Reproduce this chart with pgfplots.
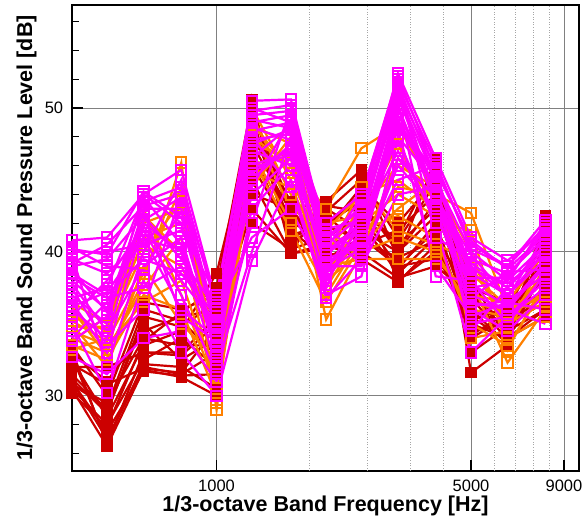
\documentclass[border=0pt]{standalone}
\usepackage{fontspec}
\setmainfont{Liberation Sans}
\usepackage{pgfplots}
\usepackage{pgfplotstable}
\pgfplotsset{compat=1.18}

\definecolor{dred}{RGB}{204,0,0}
\definecolor{orng}{RGB}{255,128,0}
\definecolor{mgnt}{RGB}{255,0,255}

% 1/3-octave band spectra, one column per measurement
\pgfplotstableread{
f    r1   r2   r3   r4   r5   r6   r7   r8   r9   r10  r11  r12  r13  r14  r15  r16
400  31.0 30.5 32.5 31.5 33.0 30.5 32.0 31.0 33.5 30.8 32.8 31.2 30.2 32.2 30.8 33.2
500  27.0 26.5 28.5 29.0 31.0 28.0 32.0 27.5 30.0 29.5 26.8 28.8 27.8 30.8 29.2 26.6
630  32.0 31.8 33.5 35.0 34.5 32.5 33.0 31.7 36.5 34.0 32.2 35.5 33.8 31.9 36.0 33.0
800  31.5 31.3 34.5 32.5 35.5 34.0 33.0 31.4 36.0 33.5 32.0 34.8 35.8 31.6 35.2 32.8
1000 33.0 30.0 38.5 34.0 36.0 32.0 35.5 31.5 37.0 33.5 30.5 36.5 37.5 34.8 32.8 35.0
1250 47.0 50.6 48.5 44.0 49.5 46.0 50.0 45.0 48.0 42.0 49.0 47.5 50.3 43.0 49.8 46.8
1600 41.0 40.0 42.0 43.0 40.5 41.5 42.5 39.9 43.5 40.2 41.8 42.8 40.8 39.9 43.2 41.2
2000 42.0 43.5 41.0 40.0 42.5 39.5 41.5 40.5 42.0 41.0 43.0 39.8 42.8 40.2 43.2 41.8
2500 44.0 45.7 43.0 42.0 40.5 41.0 44.5 39.5 43.5 42.5 41.5 40.0 45.0 41.8 42.8 40.8
3150 38.0 39.5 40.5 38.5 41.5 39.0 42.0 37.9 40.0 39.0 40.0 38.2 41.0 38.8 40.8 39.6
4000 40.0 46.5 43.0 41.0 44.0 39.5 45.0 40.5 42.5 41.5 43.5 39.0 46.0 42.0 44.8 40.8
5000 35.0 31.6 36.0 37.0 34.0 36.5 38.0 35.5 37.5 34.5 36.0 37.0 33.0 35.2 36.8 34.2
6300 34.0 33.5 35.0 34.5 35.5 36.0 34.0 33.8 36.5 35.0 33.6 35.0 34.8 36.2 33.9 35.8
8000 36.0 42.5 37.5 36.0 38.5 41.0 35.5 39.0 40.0 37.0 42.0 36.5 41.5 38.0 40.8 39.5
}\redtab

\pgfplotstableread{
f    o1   o2   o3   o4   o5   o6   o7   o8   o9   o10  o11  o12
400  34.0 35.5 33.5 36.5 34.5 35.0 33.2 36.0 35.2 33.8 36.2 34.8
500  33.0 34.5 32.5 35.0 33.5 32.0 34.0 32.8 33.8 35.5 33.2 34.8
630  38.0 40.0 37.0 42.5 36.5 39.0 41.0 43.0 38.5 40.5 37.5 42.0
800  46.2 43.5 36.0 40.0 38.0 35.0 42.0 37.0 44.5 39.0 41.0 43.0
1000 29.0 33.0 30.0 34.5 31.0 32.5 35.0 30.5 32.0 34.0 29.5 33.5
1250 48.0 49.5 46.0 50.0 47.0 44.5 48.5 46.5 49.0 47.5 45.5 48.8
1600 46.0 44.0 47.0 45.0 42.0 48.0 43.0 41.5 45.5 46.5 44.5 47.5
2000 43.0 38.5 35.3 40.0 37.5 39.0 41.5 36.5 42.0 37.0 39.5 38.0
2500 47.2 42.0 40.0 43.0 41.5 39.5 44.0 40.5 42.5 41.0 44.5 40.0
3150 48.8 44.0 41.0 46.0 42.5 39.5 45.0 43.0 47.5 44.5 41.5 46.5
4000 44.0 42.5 40.0 44.5 41.0 39.5 43.0 45.0 42.0 44.0 40.5 43.5
5000 42.7 38.0 36.0 40.0 35.0 37.0 39.0 34.0 41.5 36.5 39.5 38.5
6300 36.0 32.3 35.5 34.0 33.5 36.5 35.0 34.5 33.2 35.8 34.8 36.2
8000 37.0 36.0 38.5 35.5 37.5 40.0 36.5 39.0 38.0 37.0 39.5 36.2
}\orngtab

\pgfplotstableread{
f    m1   m2   m3   m4   m5   m6   m7   m8   m9   m10  m11  m12  m13  m14  m15  m16  m17  m18  m19  m20  m21  m22  m23  m24
400  40.8 38.0 36.5 35.0 39.5 37.0 32.7 40.0 38.5 36.0 39.0 37.5 34.0 39.8 36.8 38.2 33.8 40.3 39.2 37.8 35.5 38.8 36.2 40.2
500  41.0 36.0 33.0 30.2 38.5 35.0 31.5 40.0 37.0 34.0 39.5 33.5 36.5 32.0 37.5 36.8 35.5 39.0 40.5 34.5 38.0 35.8 37.2 39.8
630  44.0 43.5 42.0 38.0 41.0 44.0 34.0 40.5 39.5 43.0 42.5 36.0 41.5 40.0 43.8 37.5 42.8 38.8 43.2 39.0 41.8 42.2 40.8 44.2
800  45.7 44.5 40.0 33.0 36.0 42.0 34.5 41.5 38.5 43.0 39.5 44.0 37.0 45.0 40.5 39.0 35.5 42.8 44.0 41.0 38.0 43.8 40.2 42.4
1000 36.5 35.0 32.0 30.0 34.0 33.5 31.0 37.0 35.5 32.5 36.0 34.5 31.5 36.0 33.0 34.8 33.8 35.2 36.8 32.8 35.0 34.2 33.4 35.8
1250 50.5 49.0 40.0 39.4 46.0 48.0 43.0 50.0 45.0 42.0 47.5 44.0 49.5 41.0 46.5 47.0 44.5 48.6 49.8 45.5 47.8 48.4 45.8 49.2
1600 50.6 49.5 48.0 45.0 47.0 44.5 46.0 49.0 47.5 50.0 48.5 46.5 49.8 43.0 48.8 46.0 49.2 47.8 50.2 47.2 48.2 49.0 46.8 48.6
2000 41.0 40.0 38.5 37.0 39.5 36.8 38.0 42.0 39.0 40.5 41.5 37.5 39.0 38.0 40.5 39.8 41.2 38.6 40.8 39.2 40.0 41.6 38.8 40.2
2500 43.0 42.0 41.0 38.3 40.5 39.5 41.5 44.0 39.0 42.5 40.0 43.5 41.0 42.0 40.0 41.8 39.2 42.8 43.2 40.8 41.5 42.2 40.2 43.8
3150 52.4 51.0 50.0 47.8 49.0 46.0 48.5 52.0 44.0 50.5 45.0 51.5 49.5 47.0 50.8 48.0 46.5 51.2 51.8 49.2 50.2 51.6 48.8 52.2
4000 46.5 45.0 44.0 42.0 45.5 43.0 39.0 41.0 44.5 38.3 46.0 43.5 45.0 42.5 44.0 44.8 43.8 45.8 46.2 44.2 43.2 45.2 44.6 45.6
5000 41.0 40.0 38.5 33.0 37.0 36.0 35.5 39.5 34.5 38.0 40.5 36.5 39.0 37.5 35.0 38.8 39.8 36.8 40.2 37.8 39.2 38.2 36.2 40.8
6300 39.4 38.0 37.0 35.5 36.0 34.5 36.5 38.5 37.5 35.0 39.0 36.0 37.0 38.0 35.5 37.8 36.8 38.6 39.0 36.2 37.5 38.2 36.6 38.8
8000 41.5 42.0 40.0 38.0 39.0 37.0 36.0 41.0 40.5 38.5 41.8 35.0 39.5 40.5 37.5 39.8 41.2 38.8 42.2 39.2 40.2 41.6 38.4 41.2
}\mgnttab

\begin{document}
\begin{tikzpicture}
\begin{axis}[
  scale only axis,
  width=507.6bp, height=466bp,
  xmode=log,
  xmin=400, xmax=9920,
  ymin=24.77, ymax=57.16,
  clip=false,
  axis line style={line width=1.8bp, black},
  tick pos=left, tick align=inside,
  major tick length=11bp, minor tick length=7bp,
  every major tick/.append style={line width=1.8bp, black},
  every minor tick/.append style={line width=0.8bp, black},
  xtick={1000,5000,9000},
  xticklabels={1000,5000,9000},
  ytick={30,40,50},
  minor ytick={26,28,32,34,36,38,42,44,46,48,52,54,56},
  xmajorgrids=true, ymajorgrids=true,
  major grid style={line width=0.8bp, gray},
  extra x ticks={1800,2600,3400,4200,5800,6600,7400,8200},
  extra x tick labels={},
  extra x tick style={major tick length=0pt, grid=major,
    major grid style={line width=0.6bp, gray!70, dotted}},
  ticklabel style={font=\fontsize{16.5bp}{18bp}\selectfont, inner sep=0pt},
  xticklabel style={anchor=base, yshift=-20bp},
  yticklabel style={anchor=east, xshift=-8.4bp},
  /pgf/number format/assume math mode=true,
  xlabel={1/3-octave Band Frequency [Hz]},
  ylabel={1/3-octave Band Sound Pressure Level [dB]},
  every axis x label/.style={at={(axis description cs:0.5,-0.0873)}, anchor=base,
    font=\fontsize{21.5bp}{24bp}\selectfont\bfseries},
  every axis y label/.style={at={(axis description cs:-0.0782,0.5)}, rotate=90, anchor=base,
    font=\fontsize{21.5bp}{24bp}\selectfont\bfseries},
  redline/.style={dred, line width=2.2bp, mark=square*, mark size=5.2bp,
    mark options={solid, fill=dred, line width=1bp}},
  orngline/.style={orng, line width=2.2bp, mark=square, mark size=5.2bp,
    mark options={solid, line width=2bp}},
  mgntline/.style={mgnt, line width=2.2bp, mark=square, mark size=5.2bp,
    mark options={solid, line width=2bp}},
]
\pgfplotsinvokeforeach{r1,r2,r3,r4,r5,r6,r7,r8,r9,r10,r11,r12,r13,r14,r15,r16}{
  \addplot[redline] table[x=f, y=#1] {\redtab};
}
\pgfplotsinvokeforeach{o1,o2,o3,o4,o5,o6,o7,o8,o9,o10,o11,o12}{
  \addplot[orngline] table[x=f, y=#1] {\orngtab};
}
\pgfplotsinvokeforeach{m1,m2,m3,m4,m5,m6,m7,m8,m9,m10,m11,m12,m13,m14,m15,m16,m17,m18,m19,m20,m21,m22,m23,m24}{
  \addplot[mgntline] table[x=f, y=#1] {\mgnttab};
}
\coordinate (ll) at (rel axis cs:0,0);
\coordinate (ur) at (rel axis cs:1,1);
\end{axis}
\pgfresetboundingbox
\path ([shift={(-71.7bp,-46bp)}]ll) rectangle ([shift={(2.7bp,5bp)}]ur);
\end{tikzpicture}
\end{document}
